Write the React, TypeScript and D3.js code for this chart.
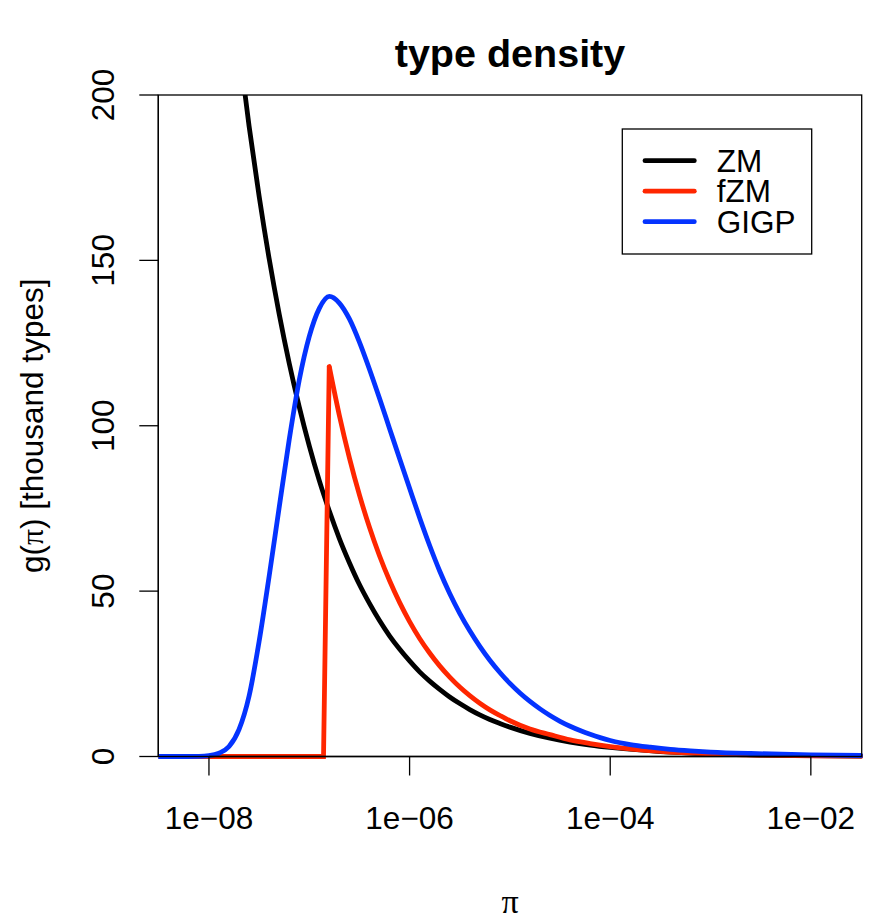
import React from "react";
import * as d3 from "d3";

// ---- data (log10 of pi, and type density in thousand types) ----
const zmLogPi = [-8.0, -7.9, -7.8, -7.7, -7.6, -7.5, -7.4, -7.3, -7.2, -7.1, -7.0, -6.9, -6.8, -6.7, -6.6, -6.5, -6.4, -6.3, -6.2, -6.1, -6.0, -5.9, -5.8, -5.7, -5.6, -5.5, -5.4, -5.3, -5.2, -5.1, -5.0, -4.8, -4.6, -4.4, -4.2, -4.0, -3.5, -3.0, -2.5, -2.0, -1.5];
const zmValues = [305.6, 271.6, 241.3, 214.5, 190.6, 169.4, 150.5, 133.8, 118.9, 105.7, 93.9, 83.4, 74.2, 65.9, 58.6, 52.0, 46.3, 41.1, 36.5, 32.5, 28.9, 25.6, 22.8, 20.3, 18.0, 16.0, 14.2, 12.6, 11.2, 10.0, 8.88, 7.01, 5.54, 4.37, 3.45, 2.73, 1.51, 0.84, 0.46, 0.26, 0.14];

const fzmLogPiRise = [-8.505, -6.858, -6.801];
const fzmValuesRise = [0, 0, 117.9];
const fzmLogPi = [-6.801, -6.7, -6.6, -6.5, -6.4, -6.3, -6.2, -6.1, -6.0, -5.9, -5.8, -5.7, -5.6, -5.5, -5.4, -5.3, -5.2, -5.1, -5.0, -4.8, -4.6, -4.4, -4.2, -4.0, -3.5, -3.0, -2.5, -2.0, -1.5];
const fzmValues = [117.9, 103.1, 90.3, 79.1, 69.3, 60.7, 53.2, 46.6, 40.8, 35.7, 31.3, 27.4, 24.0, 21.0, 18.4, 16.1, 14.1, 12.4, 10.8, 8.3, 6.6, 5.0, 3.9, 3.0, 1.55, 0.8, 0.42, 0.2, 0.1];

const gigpLogPi = [-8.505, -8.3, -8.1, -8.0, -7.9, -7.8, -7.7, -7.6, -7.5, -7.4, -7.3, -7.2, -7.1, -7.0, -6.9, -6.8, -6.7, -6.6, -6.5, -6.4, -6.3, -6.2, -6.1, -6.0, -5.9, -5.8, -5.7, -5.6, -5.5, -5.4, -5.3, -5.2, -5.1, -5.0, -4.9, -4.8, -4.7, -4.6, -4.5, -4.4, -4.3, -4.2, -4.1, -4.0, -3.9, -3.8, -3.6, -3.4, -3.2, -3.0, -2.6, -2.0, -1.5];
const gigpValues = [0, 0, 0.05, 0.25, 1.0, 3.0, 8.2, 18.3, 34.8, 54.5, 75.3, 95.8, 113.8, 127.0, 135.5, 139.1, 137.1, 132.3, 125.3, 117.1, 108.3, 99.2, 90.1, 81.1, 72.2, 63.8, 56.1, 49.3, 43.3, 38.0, 33.3, 29.1, 25.4, 22.1, 19.2, 16.65, 14.4, 12.4, 10.65, 9.15, 7.85, 6.7, 5.7, 4.85, 4.15, 3.6, 2.8, 2.15, 1.7, 1.35, 0.9, 0.5, 0.3];

const xTicks = [1e-8, 1e-6, 1e-4, 1e-2];
const xTickLabels = ["1e\u221208", "1e\u221206", "1e\u221204", "1e\u221202"];
const yTicks = [0, 50, 100, 150, 200];
const legendLabels = ["ZM", "fZM", "GIGP"];
const legendColors = ["#000000", "#FF2600", "#0433FF"];

const FONT = "'Liberation Sans', Arial, Helvetica, sans-serif";
const SERIF = "'Liberation Serif', 'DejaVu Serif', serif";

export default function App() {
  const W = 892, H = 921;
  const left = 158.3, right = 861.7, top = 95, bottom = 756.5;
  const x = d3.scaleLog().domain([Math.pow(10, -8.505), Math.pow(10, -1.493)]).range([left, right]);
  const y = d3.scaleLinear().domain([0, 200]).range([bottom, top]);

  const toPts = (lx: number[], v: number[]) => lx.map((l, i) => [Math.pow(10, l), v[i]] as [number, number]);
  const smooth = d3.line<[number, number]>().x(d => x(d[0])).y(d => y(d[1])).curve(d3.curveMonotoneX);
  const straight = d3.line<[number, number]>().x(d => x(d[0])).y(d => y(d[1])).curve(d3.curveLinear);

  const zmPath = smooth(toPts(zmLogPi, zmValues)) || "";
  const fzmRisePath = straight(toPts(fzmLogPiRise, fzmValuesRise)) || "";
  const fzmPath = smooth(toPts(fzmLogPi, fzmValues)) || "";
  const gigpPath = smooth(toPts(gigpLogPi, gigpValues)) || "";

  const lw = 4.8;
  const tickLen = 19;
  const fs = 31.5;

  const legX = 622.3, legY = 129, legW = 189.4, legH = 125;
  const legRowY = [160.7, 191.2, 221.7];

  return (
    <svg width={W} height={H} style={{ position: "absolute", left: 0, top: 0, background: "#fff" }}>
      <defs>
        <clipPath id="plotclip">
          <rect x={left} y={top} width={right - left + 1} height={bottom - top + 2.5} />
        </clipPath>
      </defs>
      <rect x={0} y={0} width={W} height={H} fill="#fff" />

      {/* title */}
      <text x={(left + right) / 2} y={67} textAnchor="middle" fontFamily={FONT} fontWeight="bold" fontSize={39.5} fill="#000">
        type density
      </text>

      {/* curves */}
      <g clipPath="url(#plotclip)" fill="none" strokeLinecap="round" strokeLinejoin="round" strokeWidth={lw}>
        <path d={zmPath} stroke={legendColors[0]} />
        <path d={fzmRisePath} stroke={legendColors[1]} strokeLinejoin="miter" strokeLinecap="butt" />
        <path d={fzmPath} stroke={legendColors[1]} />
        <path d={gigpPath} stroke={legendColors[2]} />
      </g>

      {/* box */}
      <rect x={left} y={top} width={right - left} height={bottom - top} fill="none" stroke="#000" strokeWidth={1.3} />

      {/* x axis */}
      <g>
        <line x1={x(xTicks[0])} x2={x(xTicks[xTicks.length - 1])} y1={bottom} y2={bottom} stroke="#000" strokeWidth={1.3} />
        {xTicks.map((t, i) => (
          <g key={"xt" + i}>
            <line x1={x(t)} x2={x(t)} y1={bottom} y2={bottom + tickLen} stroke="#000" strokeWidth={1.3} />
            <text x={x(t)} y={829} textAnchor="middle" fontFamily={FONT} fontSize={fs} fill="#000">
              {xTickLabels[i]}
            </text>
          </g>
        ))}
      </g>

      {/* y axis */}
      <g>
        <line x1={left} x2={left} y1={y(0)} y2={y(200)} stroke="#000" strokeWidth={1.3} />
        {yTicks.map((t, i) => (
          <g key={"yt" + i}>
            <line x1={left} x2={left - tickLen} y1={y(t)} y2={y(t)} stroke="#000" strokeWidth={1.3} />
            <text transform={`translate(114, ${y(t)}) rotate(-90)`} textAnchor="middle" fontFamily={FONT} fontSize={fs} fill="#000">
              {String(t)}
            </text>
          </g>
        ))}
      </g>

      {/* axis titles */}
      <text x={(left + right) / 2} y={913} textAnchor="middle" fontFamily={SERIF} fontSize={34} fill="#000">
        {"\u03C0"}
      </text>
      <text transform={`translate(43, ${(top + bottom) / 2}) rotate(-90)`} textAnchor="middle" fontFamily={FONT} fontSize={fs} fill="#000">
        <tspan>g(</tspan>
        <tspan fontFamily={SERIF}>{"\u03C0"}</tspan>
        <tspan>) [thousand types]</tspan>
      </text>

      {/* legend */}
      <rect x={legX} y={legY} width={legW} height={legH} fill="#fff" stroke="#000" strokeWidth={1.3} />
      {legendLabels.map((lab, i) => (
        <g key={"lg" + i}>
          <line x1={645} x2={694.3} y1={legRowY[i]} y2={legRowY[i]} stroke={legendColors[i]} strokeWidth={lw} strokeLinecap="round" />
          <text x={716.7} y={legRowY[i] + 11} fontFamily={FONT} fontSize={fs} fill="#000">
            {lab}
          </text>
        </g>
      ))}
    </svg>
  );
}
